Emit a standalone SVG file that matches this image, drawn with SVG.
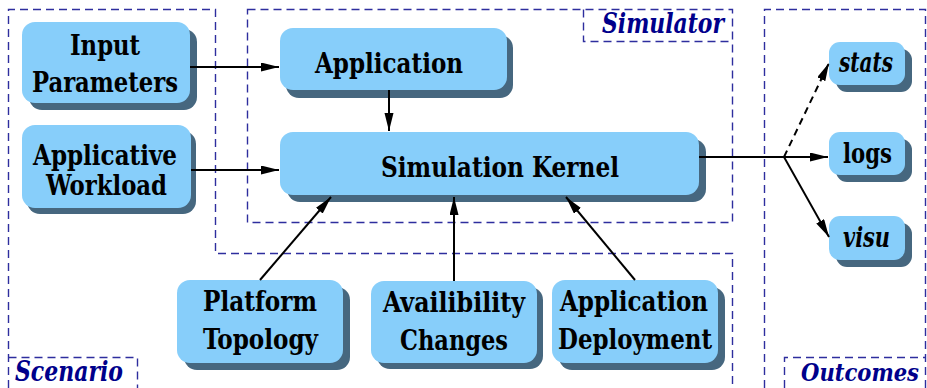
<svg xmlns="http://www.w3.org/2000/svg" width="927" height="388" viewBox="0 0 927 388">
<defs>
<style>
.region{fill:none;stroke:#2e2e9e;stroke-width:1.4;stroke-dasharray:8 5}
.rlabel{font-family:'DejaVu Serif','Liberation Serif',serif;font-stretch:condensed;font-weight:bold;font-style:italic;font-size:27px;fill:#00008b}
.box{fill:#87cefa}
.shadow{fill:#46677f}
.t{font-family:'DejaVu Serif','Liberation Serif',serif;font-stretch:condensed;font-weight:bold;font-size:27px;fill:#000}
.it{font-style:italic}
.edge{fill:none;stroke:#000;stroke-width:2}
.dashed{stroke-dasharray:7 5}
</style>
<marker id="arrow" markerUnits="userSpaceOnUse" markerWidth="19" markerHeight="10" refX="18" refY="4.5" orient="auto">
<path d="M0,0 L18,4.5 L0,9 Z" fill="#000"/>
</marker>
</defs>

<g id="regions">
<path class="region" d="M8.5,388 V9.5 H215.5 V253.5 H732.5 V388"/>
<path class="region" d="M8.5,357.5 H137.5 V388"/>
<path class="region" d="M247.5,9.5 H732.5 V222.5 H247.5 Z"/>
<path class="region" d="M583.5,9.5 V41.5 H732.5"/>
<path class="region" d="M764.5,388 V9.5 H925.5 V388"/>
<path class="region" d="M784.5,388 V357.5 H925.5"/>
<text class="rlabel" x="15" y="381" textLength="108" lengthAdjust="spacingAndGlyphs">Scenario</text>
<text class="rlabel" x="602" y="33" textLength="122" lengthAdjust="spacingAndGlyphs">Simulator</text>
<text class="rlabel" x="801" y="381" font-size="25" style="font-size:25px" textLength="118" lengthAdjust="spacingAndGlyphs">Outcomes</text>
</g>

<g id="node-input">
<rect class="shadow" x="29" y="29" width="168" height="81" rx="13"/>
<rect class="box" x="22" y="22" width="168" height="81" rx="13"/>
<text class="t" x="70" y="55" textLength="70" lengthAdjust="spacingAndGlyphs">Input</text>
<text class="t" x="32" y="92" textLength="146" lengthAdjust="spacingAndGlyphs">Parameters</text>
</g>

<g id="node-workload">
<rect class="shadow" x="27" y="131" width="169" height="83" rx="13"/>
<rect class="box" x="22" y="125" width="169" height="83" rx="13"/>
<text class="t" x="33" y="165" textLength="144" lengthAdjust="spacingAndGlyphs">Applicative</text>
<text class="t" x="46" y="195" textLength="121" lengthAdjust="spacingAndGlyphs">Workload</text>
</g>

<g id="node-application">
<rect class="shadow" x="286" y="35" width="227" height="63" rx="13"/>
<rect class="box" x="280" y="28" width="227" height="62" rx="13"/>
<text class="t" x="315" y="73" textLength="148" lengthAdjust="spacingAndGlyphs">Application</text>
</g>

<g id="node-kernel">
<rect class="shadow" x="287" y="139" width="419" height="63" rx="13"/>
<rect class="box" x="280" y="132" width="419" height="63" rx="13"/>
<text class="t" x="381" y="177" textLength="238" lengthAdjust="spacingAndGlyphs">Simulation Kernel</text>
</g>

<g id="node-stats">
<rect class="shadow" x="836" y="49" width="76" height="43" rx="11"/>
<rect class="box" x="829" y="42" width="76" height="43" rx="11"/>
<text class="t it" x="839" y="72" textLength="54" lengthAdjust="spacingAndGlyphs">stats</text>
</g>

<g id="node-logs">
<rect class="shadow" x="836" y="139" width="76" height="43" rx="11"/>
<rect class="box" x="829" y="132" width="76" height="43" rx="11"/>
<text class="t" x="843" y="163" textLength="49" lengthAdjust="spacingAndGlyphs">logs</text>
</g>

<g id="node-visu">
<rect class="shadow" x="836" y="223" width="76" height="44" rx="11"/>
<rect class="box" x="829" y="216" width="76" height="44" rx="11"/>
<text class="t it" x="843" y="247" textLength="47" lengthAdjust="spacingAndGlyphs">visu</text>
</g>

<g id="node-platform">
<rect class="shadow" x="184" y="287" width="166" height="83" rx="13"/>
<rect class="box" x="177" y="280" width="166" height="83" rx="13"/>
<text class="t" x="203" y="311" textLength="114" lengthAdjust="spacingAndGlyphs">Platform</text>
<text class="t" x="203" y="349" textLength="115" lengthAdjust="spacingAndGlyphs">Topology</text>
</g>

<g id="node-availability">
<rect class="shadow" x="377" y="287" width="166" height="82" rx="13"/>
<rect class="box" x="371" y="281" width="166" height="82" rx="13"/>
<text class="t" x="383" y="312" textLength="142" lengthAdjust="spacingAndGlyphs">Availibility</text>
<text class="t" x="400" y="350" textLength="108" lengthAdjust="spacingAndGlyphs">Changes</text>
</g>

<g id="node-deployment">
<rect class="shadow" x="559" y="287" width="166" height="83" rx="13"/>
<rect class="box" x="552" y="280" width="166" height="83" rx="13"/>
<text class="t" x="560" y="311" textLength="148" lengthAdjust="spacingAndGlyphs">Application</text>
<text class="t" x="558" y="349" textLength="154" lengthAdjust="spacingAndGlyphs">Deployment</text>
</g>

<g id="connectors">
<line class="edge" x1="190" y1="67" x2="279" y2="67" marker-end="url(#arrow)"/>
<line class="edge" x1="191" y1="170" x2="279" y2="170" marker-end="url(#arrow)"/>
<line class="edge" x1="389" y1="90" x2="389" y2="131" marker-end="url(#arrow)"/>
<line class="edge" x1="699" y1="157" x2="828" y2="157" marker-end="url(#arrow)"/>
<line class="edge dashed" x1="784" y1="157" x2="829" y2="63" marker-end="url(#arrow)"/>
<line class="edge" x1="784" y1="157" x2="829" y2="237" marker-end="url(#arrow)"/>
<line class="edge" x1="260" y1="280" x2="331" y2="197" marker-end="url(#arrow)"/>
<line class="edge" x1="454" y1="281" x2="454" y2="197" marker-end="url(#arrow)"/>
<line class="edge" x1="635" y1="280" x2="566" y2="197" marker-end="url(#arrow)"/>
</g>
</svg>
